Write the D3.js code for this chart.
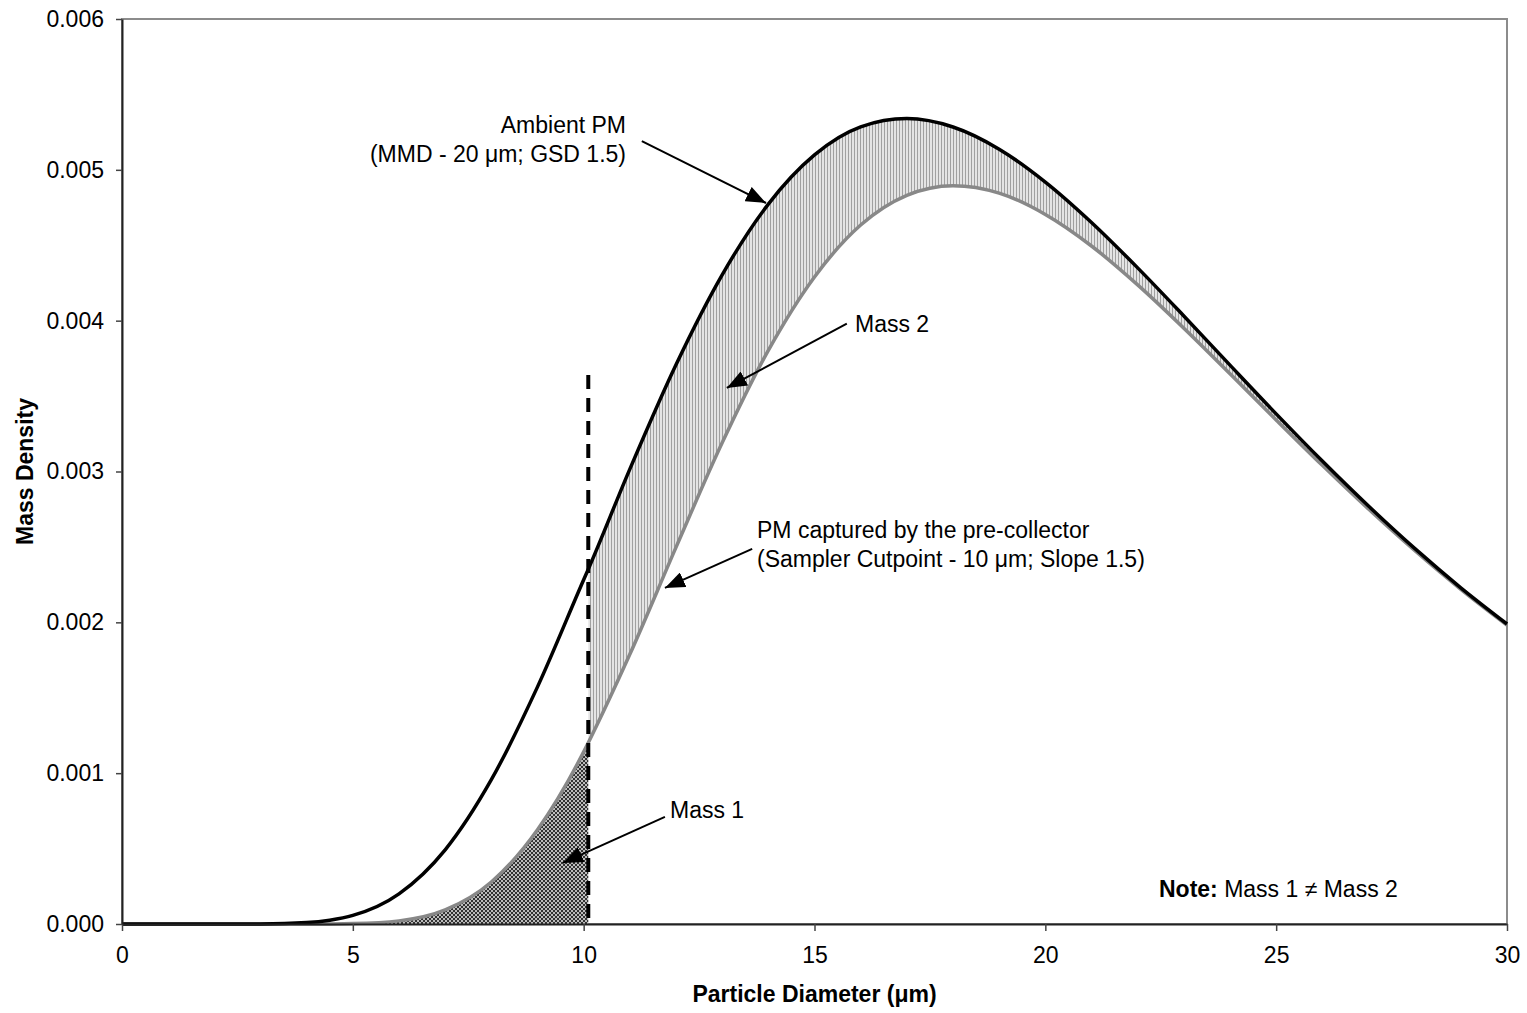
<!DOCTYPE html>
<html>
<head>
<meta charset="utf-8">
<script src="https://cdn.jsdelivr.net/npm/d3@7"></script>
<style>
  body { margin:0; background:#fff; }
  text { font-family: "Liberation Sans", Arial, sans-serif; }
</style>
</head>
<body>
<div id="chartContainer"></div>
<script>

// particle diameter (um)
var diameters = [0, 1, 2, 3, 4, 4.5, 5, 6, 7, 8, 9, 10, 10.1, 11, 12, 13, 14, 15, 16, 17, 18, 19, 20,
                 21, 22, 23, 24, 25, 26, 27, 28, 29, 30];

// ambient PM mass density (MMD 20 um, GSD 1.5)
var ambient = [0, 0, 0, 0.0000006, 0.0000093, 0.0000252, 0.0000569, 0.0002, 0.000492, 0.000957, 0.001572,
               0.002282, 0.002352, 0.003016, 0.003708, 0.004304, 0.004773, 0.005099, 0.005285, 0.00534,
               0.005284, 0.005137, 0.004919, 0.004651, 0.00435, 0.004031, 0.003705, 0.003382, 0.003069,
               0.002771, 0.00249, 0.002229, 0.001989];

// PM captured by the pre-collector (cutpoint 10 um, slope 1.5)
var captured = [0, 0, 0, 0, 0.0000001, 0.0000006, 0.0000025, 0.0000207, 0.0000932, 0.0002786, 0.000625,
                0.001141, 0.001202, 0.001788, 0.002497, 0.00319, 0.003803, 0.00429, 0.004634, 0.004831,
                0.004895, 0.004846, 0.004704, 0.004495, 0.004237, 0.00395, 0.003648, 0.003342, 0.003041,
                0.002751, 0.002476, 0.002219, 0.001982];

var cutpoint = 10.1;
var cutLineTop = 0.00364;

var xTicks = [0, 5, 10, 15, 20, 25, 30];
var yTicks = [0, 0.001, 0.002, 0.003, 0.004, 0.005, 0.006];

var margin = { left:122, right:20, top:19, bottom:89 };
var w = 1527 - margin.left - margin.right;
var h = 1013 - margin.top - margin.bottom;
var fontSize = 23;

var data = diameters.map(function(d, i) {
    return { d: d, ambient: ambient[i], captured: captured[i] };
});

var svg = d3.select("#chartContainer")
            .append("svg")
            .attr("width", 1527)
            .attr("height", 1013);

// --------- Patterns
var defs = svg.append("defs");

var stripes = defs.append("pattern")
    .attr("id", "mass2Pattern")
    .attr("patternUnits", "userSpaceOnUse")
    .attr("width", 3)
    .attr("height", 6);
stripes.append("rect").attr("width", 3).attr("height", 6).attr("fill", "#e4e4e4");
stripes.append("line")
    .attr("x1", 0.5).attr("x2", 0.5).attr("y1", 0).attr("y2", 6)
    .attr("stroke", "#a0a0a0").attr("stroke-width", 1);

var hatch = defs.append("pattern")
    .attr("id", "mass1Pattern")
    .attr("patternUnits", "userSpaceOnUse")
    .attr("width", 4)
    .attr("height", 4);
hatch.append("rect").attr("width", 4).attr("height", 4).attr("fill", "#bdbdbd");
hatch.append("path")
    .attr("d", "M-1,1 L1,-1 M0,4 L4,0 M3,5 L5,3 M-1,3 L1,5 M0,0 L4,4 M3,-1 L5,1")
    .attr("stroke", "#333").attr("stroke-width", 1);

var arrowHead = defs.append("marker")
    .attr("id", "arrowHead")
    .attr("viewBox", "0 0 10 10")
    .attr("refX", 10)
    .attr("refY", 5)
    .attr("markerUnits", "userSpaceOnUse")
    .attr("markerWidth", 20)
    .attr("markerHeight", 16)
    .attr("preserveAspectRatio", "none")
    .attr("orient", "auto");
arrowHead.append("path")
    .attr("d", "M0,0 L10,5 L0,10 Z")
    .attr("fill", "#000");

var g = svg.append("g")
    .attr("transform", "translate(" + margin.left + "," + margin.top + ")");

var xScale = d3.scaleLinear().domain([0, 30]).range([0, w]);
var yScale = d3.scaleLinear().domain([0, 0.006]).range([h, 0]);

// --------- Plot border (top / right in grey)
g.append("rect")
    .attr("x", 0).attr("y", 0)
    .attr("width", w).attr("height", h)
    .attr("fill", "none")
    .attr("stroke", "#8c8c8c")
    .attr("stroke-width", 2);

// --------- Shaded areas
var mass2Area = d3.area()
    .curve(d3.curveMonotoneX)
    .x(function(d) { return xScale(d.d); })
    .y0(function(d) { return yScale(d.captured); })
    .y1(function(d) { return yScale(d.ambient); });

g.append("path")
    .datum(data.filter(function(d) { return d.d >= cutpoint; }))
    .attr("d", mass2Area)
    .attr("fill", "url(#mass2Pattern)");

var mass1Area = d3.area()
    .curve(d3.curveMonotoneX)
    .x(function(d) { return xScale(d.d); })
    .y0(yScale(0))
    .y1(function(d) { return yScale(d.captured); });

g.append("path")
    .datum(data.filter(function(d) { return d.d <= cutpoint; }))
    .attr("d", mass1Area)
    .attr("fill", "url(#mass1Pattern)");

// --------- Lines
var capturedLine = d3.line()
    .curve(d3.curveMonotoneX)
    .x(function(d) { return xScale(d.d); })
    .y(function(d) { return yScale(d.captured); });

var ambientLine = d3.line()
    .curve(d3.curveMonotoneX)
    .x(function(d) { return xScale(d.d); })
    .y(function(d) { return yScale(d.ambient); });

g.append("path")
    .datum(data)
    .attr("d", capturedLine)
    .attr("fill", "none")
    .attr("stroke", "#888")
    .attr("stroke-width", 3.5);

g.append("path")
    .datum(data)
    .attr("d", ambientLine)
    .attr("fill", "none")
    .attr("stroke", "#000")
    .attr("stroke-width", 3.5);

// --------- Cutpoint dashed line
g.append("line")
    .attr("x1", xScale(cutpoint))
    .attr("x2", xScale(cutpoint))
    .attr("y1", yScale(cutLineTop))
    .attr("y2", yScale(0))
    .attr("stroke", "#000")
    .attr("stroke-width", 4)
    .attr("stroke-dasharray", "14,9");

// --------- Axes
var xAxis = d3.axisBottom(xScale)
    .tickValues(xTicks)
    .tickSize(7)
    .tickSizeOuter(0)
    .tickPadding(16)
    .tickFormat(d3.format("d"));

var yAxis = d3.axisLeft(yScale)
    .tickValues(yTicks)
    .tickSize(6)
    .tickSizeOuter(0)
    .tickPadding(12)
    .tickFormat(d3.format(".3f"));

var xAxisGroup = g.append("g")
    .attr("transform", "translate(0," + h + ")")
    .call(xAxis);

var yAxisGroup = g.append("g").call(yAxis);

[xAxisGroup, yAxisGroup].forEach(function(ax) {
    ax.selectAll("text")
        .attr("font-size", fontSize)
        .attr("font-family", "'Liberation Sans', Arial, sans-serif")
        .attr("fill", "#000");
    ax.select(".domain").attr("stroke", "#222").attr("stroke-width", 2);
    ax.selectAll(".tick line").attr("stroke", "#444").attr("stroke-width", 1.5);
});

// --------- Axis titles
svg.append("text")
    .attr("x", margin.left + w / 2)
    .attr("y", 1002)
    .attr("text-anchor", "middle")
    .attr("font-size", fontSize)
    .attr("font-weight", "bold")
    .text("Particle Diameter (\u03bcm)");

svg.append("text")
    .attr("transform", "rotate(-90)")
    .attr("x", -(margin.top + h / 2))
    .attr("y", 33)
    .attr("text-anchor", "middle")
    .attr("font-size", fontSize)
    .attr("font-weight", "bold")
    .text("Mass Density");

// --------- Annotations
var arrows = [
    { from: [11.26, 0.00519], to: [13.95, 0.00478] },
    { from: [15.70, 0.00398], to: [13.10, 0.003554] },
    { from: [13.65, 0.002487], to: [11.76, 0.002228] },
    { from: [11.76, 0.00071], to: [9.55, 0.000405] }
];

arrows.forEach(function(a) {
    g.append("line")
        .attr("x1", xScale(a.from[0]))
        .attr("y1", yScale(a.from[1]))
        .attr("x2", xScale(a.to[0]))
        .attr("y2", yScale(a.to[1]))
        .attr("stroke", "#000")
        .attr("stroke-width", 2)
        .attr("marker-end", "url(#arrowHead)");
});

var labels = [
    { x: 626, y: 133, anchor: "end", text: "Ambient PM" },
    { x: 626, y: 162, anchor: "end", text: "(MMD - 20 \u03bcm; GSD 1.5)" },
    { x: 855, y: 332, anchor: "start", text: "Mass 2" },
    { x: 757, y: 538, anchor: "start", text: "PM captured by the pre-collector" },
    { x: 757, y: 567, anchor: "start", text: "(Sampler Cutpoint - 10 \u03bcm; Slope 1.5)" },
    { x: 670, y: 818, anchor: "start", text: "Mass 1" }
];

labels.forEach(function(l) {
    svg.append("text")
        .attr("x", l.x)
        .attr("y", l.y)
        .attr("text-anchor", l.anchor)
        .attr("font-size", fontSize)
        .text(l.text);
});

var note = svg.append("text")
    .attr("x", 1159)
    .attr("y", 897)
    .attr("font-size", fontSize);
note.append("tspan").attr("font-weight", "bold").text("Note:");
note.append("tspan").text(" Mass 1 \u2260 Mass 2");

</script>
</body>
</html>
